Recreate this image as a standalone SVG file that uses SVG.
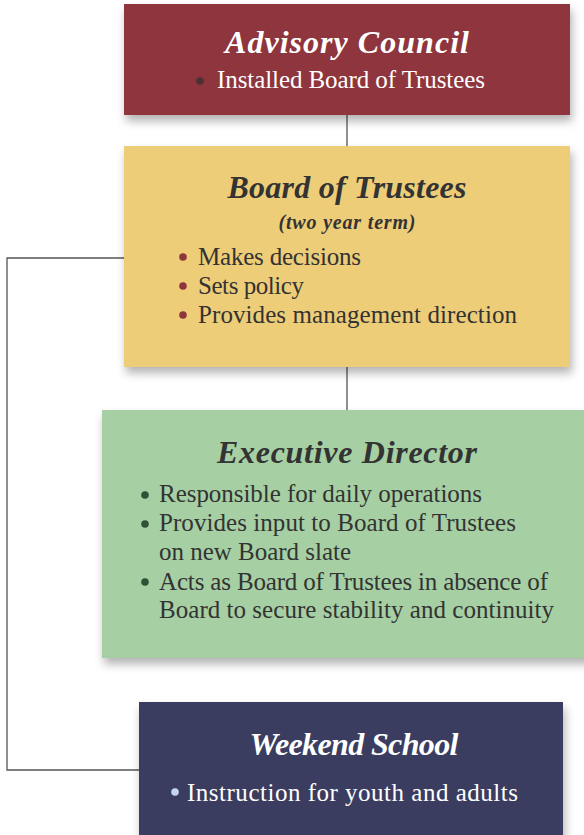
<svg xmlns="http://www.w3.org/2000/svg" width="584" height="835" viewBox="0 0 584 835">
<defs>
<filter id="sh" x="-10%" y="-10%" width="120%" height="130%">
<feDropShadow dx="2" dy="6" stdDeviation="5" flood-color="#000" flood-opacity="0.3"/>
</filter>
<style>
.t{font-family:"Liberation Serif","Times New Roman",serif;font-style:italic;font-weight:bold;text-anchor:middle}
.b{font-family:"Liberation Serif","Times New Roman",serif;font-size:25px}
.con{fill:none;stroke:#555;stroke-width:1.3}
</style>
</defs>
<rect width="584" height="835" fill="#fff"/>
<g id="connectors">
<line class="con" x1="347" y1="115" x2="347" y2="147"/>
<line class="con" x1="347" y1="366" x2="347" y2="411"/>
<polyline class="con" points="124,258 7,258 7,770 139,770"/>
</g>
<g id="advisory-council">
<rect x="124" y="4" width="446" height="111" fill="#8e353d" filter="url(#sh)"/>
<text class="t" x="347" y="53" font-size="32" fill="#fff" textLength="244" lengthAdjust="spacing">Advisory Council</text>
<circle cx="200" cy="81" r="3.8" fill="#4a3035"/>
<text class="b" x="217" y="88" fill="#fff" textLength="268" lengthAdjust="spacing">Installed Board of Trustees</text>
</g>
<g id="board-of-trustees">
<rect x="124" y="146" width="446" height="221" fill="#eecd78" filter="url(#sh)"/>
<text class="t" x="347" y="198" font-size="32" fill="#333" textLength="239" lengthAdjust="spacing">Board of Trustees</text>
<text class="t" x="347" y="229" font-size="20" fill="#333" textLength="137" lengthAdjust="spacing">(two year term)</text>
<g fill="#8e353d">
<circle cx="183" cy="257" r="3.8"/>
<circle cx="183" cy="286" r="3.8"/>
<circle cx="183" cy="315" r="3.8"/>
</g>
<g class="b" fill="#333">
<text x="198" y="265" textLength="163" lengthAdjust="spacing">Makes decisions</text>
<text x="198" y="294" textLength="106" lengthAdjust="spacing">Sets policy</text>
<text x="198" y="323" textLength="319" lengthAdjust="spacing">Provides management direction</text>
</g>
</g>
<g id="executive-director">
<rect x="102" y="410" width="490" height="248" fill="#a6cfa3" filter="url(#sh)"/>
<text class="t" x="347" y="463" font-size="32" fill="#333" textLength="260" lengthAdjust="spacing">Executive Director</text>
<g fill="#2f5237">
<circle cx="145" cy="495" r="3.8"/>
<circle cx="145" cy="524" r="3.8"/>
<circle cx="145" cy="582" r="3.8"/>
</g>
<g class="b" fill="#333">
<text x="159" y="502" textLength="323" lengthAdjust="spacing">Responsible for daily operations</text>
<text x="159" y="531" textLength="357" lengthAdjust="spacing">Provides input to Board of Trustees</text>
<text x="159" y="560" textLength="192" lengthAdjust="spacing">on new Board slate</text>
<text x="159" y="590" textLength="389" lengthAdjust="spacing">Acts as Board of Trustees in absence of</text>
<text x="159" y="618" textLength="395" lengthAdjust="spacing">Board to secure stability and continuity</text>
</g>
</g>
<g id="weekend-school">
<rect x="139" y="702" width="424" height="140" fill="#3b3d61" filter="url(#sh)"/>
<text class="t" x="354" y="755" font-size="32" fill="#fff" textLength="209" lengthAdjust="spacing">Weekend School</text>
<circle cx="175" cy="792" r="3.8" fill="#c5d5ee"/>
<text class="b" x="187" y="801" fill="#fff" textLength="331" lengthAdjust="spacing">Instruction for youth and adults</text>
</g>
</svg>
